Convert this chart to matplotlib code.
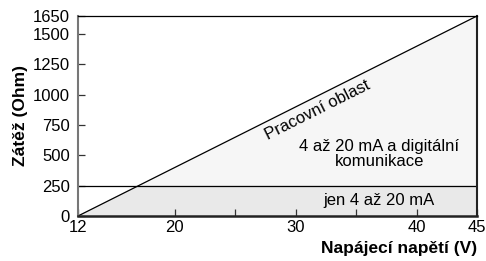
import matplotlib.pyplot as plt
import numpy as np

plt.rcParams['font.family'] = ['Liberation Sans', 'DejaVu Sans']

# working range: load limit line from supply voltage
voltage = [12, 45]
load = [0, 1650]
hart_min = 250  # minimal load for digital communication

x_ticks = [12, 20, 30, 40, 45]
x_minor = [25, 35]
y_ticks = [0, 250, 500, 750, 1000, 1250, 1500, 1650]

fig = plt.figure(figsize=(4.86, 2.61), dpi=100)
ax = fig.add_axes([78 / 486, 1 - 216 / 261, 399 / 486, 200 / 261])

v = np.array(voltage, dtype=float)
r = np.array(load, dtype=float)

# upper region (below the line)
ax.fill_between(v, 0, r, color='#f6f6f6', zorder=0)
# lower region (below 250 Ohm)
v_cross = np.interp(hart_min, r, v)
vx = np.array([v[0], v_cross, v[1]])
ax.fill_between(vx, 0, np.minimum(np.interp(vx, v, r), hart_min), color='#e9e9e9', zorder=0)

ax.plot(v, r, color='black', lw=0.9)
ax.axhline(hart_min, color='black', lw=0.9)

ax.set_xlim(12, 45)
ax.set_ylim(0, 1650)
ax.set_xticks(x_ticks)
ax.set_xticks(x_minor, minor=True)
ax.set_yticks(y_ticks)
ax.tick_params(axis='both', which='both', direction='in', labelsize=12, length=5, width=0.9, color='#333333')
ax.tick_params(axis='x', pad=3)
ax.tick_params(axis='y', pad=6)

ax.spines['left'].set_color('#777777')
ax.spines['left'].set_linewidth(1.5)
ax.spines['bottom'].set_color('#222222')
ax.spines['bottom'].set_linewidth(1.8)
ax.spines['top'].set_linewidth(0.9)
ax.spines['right'].set_color('#222222')
ax.spines['right'].set_linewidth(1.5)

ax.set_ylabel('Zátěž (Ohm)', fontsize=12.5, fontweight='bold', labelpad=3)
fig.text(477 / 486, 1 - 249 / 261, 'Napájecí napětí (V)', fontsize=12.5, fontweight='bold',
         ha='right', va='center')

ax.text(31.85, 870, 'Pracovní oblast', fontsize=12, rotation=26.6,
        ha='center', va='center', rotation_mode='anchor')
ax.text(36.9, 515, '4 až 20 mA a digitální\nkomunikace', fontsize=12,
        ha='center', va='center', linespacing=1.0)
ax.text(36.9, 132, 'jen 4 až 20 mA', fontsize=12, ha='center', va='center')

fig.savefig('out.png', dpi=100)
